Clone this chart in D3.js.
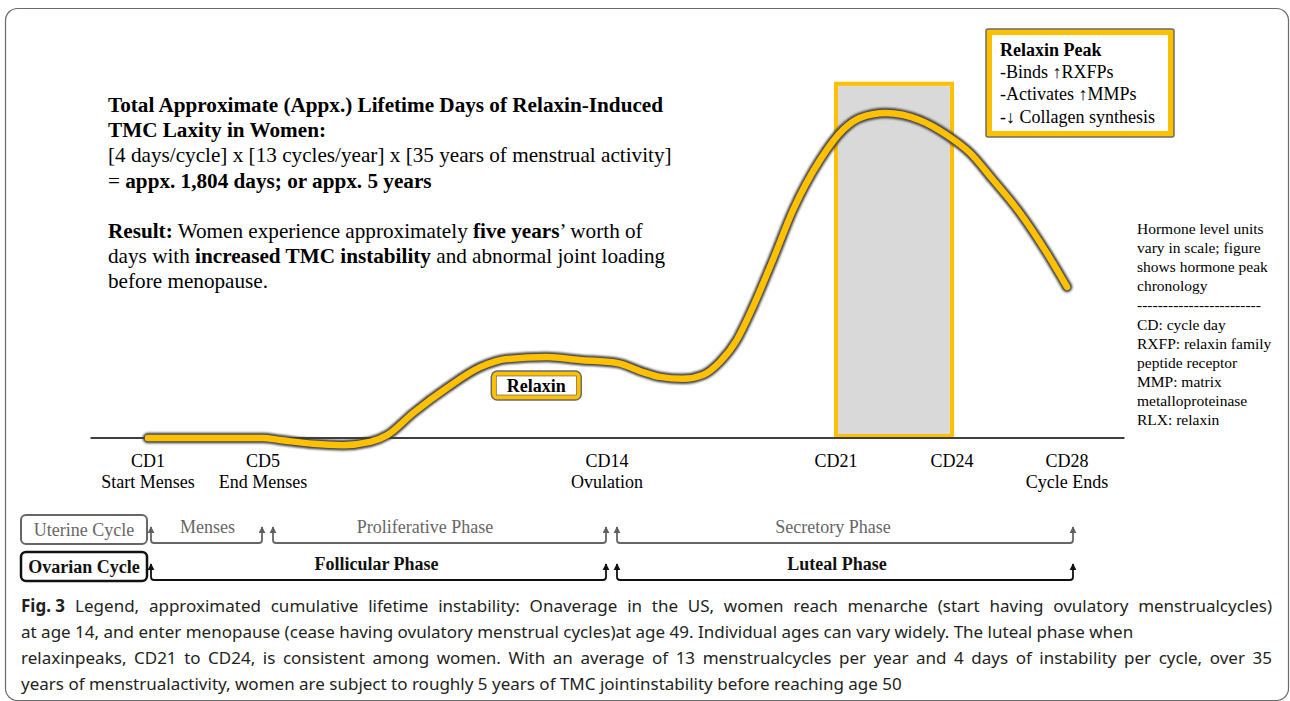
<!DOCTYPE html>
<html>
<head>
<meta charset="utf-8">
<script src="https://cdn.jsdelivr.net/npm/d3@7"></script>
<style>
  html, body { margin: 0; padding: 0; background: #fff; }
  svg { display: block; }
</style>
</head>
<body>
<svg id="fig" width="1290" height="701"></svg>
<script>
// Cycle-day ticks along the baseline
var TICK_DAYS = [1, 5, 14, 21, 24, 28];
var TICK_LABELS = ['CD1', 'CD5', 'CD14', 'CD21', 'CD24', 'CD28'];
var TICK_NOTES = ['Start Menses', 'End Menses', 'Ovulation', '', '', 'Cycle Ends'];

// Relaxin level (arbitrary units, peak = 100)
var CURVE_DAY = [1, 5, 5.44, 6.31, 7.09, 7.8, 8.25, 8.93, 9.81, 10.68, 11.38, 12.43, 13.29, 14.31, 15.1, 15.62, 16.32, 16.93, 17.45, 17.97, 18.46, 19.07, 19.69, 20.51, 21.18, 21.62, 22.29, 23.17, 23.87, 24.63, 25.43, 26.37, 27.3, 28];
var CURVE_LEVEL = [0, 0, -0.6, -1.8, -2.2, -1.2, 0.9, 7.7, 15.4, 21.8, 24.3, 24.9, 24.0, 23.1, 20.3, 18.8, 18.2, 19.4, 23.4, 30.2, 40.3, 54.8, 70.2, 85.5, 94.8, 98.5, 100, 97.8, 93.2, 87.7, 79.4, 69.2, 56.9, 46.5];

// Relaxin peak window (CD21 to CD24)
var PEAK_WINDOW = [21, 24];
var PEAK_BAND_TOP = 109;

// Uterine / ovarian phase rows
var UTERINE_NAMES = ['Menses', 'Proliferative Phase', 'Secretory Phase'];
var UTERINE_FROM = [1, 5, 14];
var UTERINE_TO = [5, 14, 28];
var OVARIAN_NAMES = ['Follicular Phase', 'Luteal Phase'];
var OVARIAN_FROM = [1, 14];
var OVARIAN_TO = [14, 28];

// Text blocks: each line is a list of [text, bold]
var SUMMARY_LINES = [
  [['Total Approximate (Appx.) Lifetime Days of Relaxin-Induced', true]],
  [['TMC Laxity in Women:', true]],
  [['[4 days/cycle] x [13 cycles/year] x [35 years of menstrual activity]', false]],
  [['= ', false], ['appx. 1,804 days; or appx. 5 years', true]],
  null,
  [['Result:', true], [' Women experience approximately ', false], ['five years', true], ['\u2019 worth of', false]],
  [['days with ', false], ['increased TMC instability', true], [' and abnormal joint loading', false]],
  [['before menopause.', false]]
];
var PEAK_NOTES = ['-Binds \u2191RXFPs', '-Activates \u2191MMPs', '-\u2193 Collagen synthesis'];
var SIDE_NOTES = [
  'Hormone level units', 'vary in scale; figure', 'shows hormone peak', 'chronology',
  '------------------------',
  'CD: cycle day', 'RXFP: relaxin family', 'peptide receptor', 'MMP: matrix',
  'metalloproteinase', 'RLX: relaxin'
];
var CAPTION_LINES = [
  'Legend, approximated cumulative lifetime instability: Onaverage in the US, women reach menarche (start having ovulatory menstrualcycles)',
  'at age 14, and enter menopause (cease having ovulatory menstrual cycles)at age 49. Individual ages can vary widely. The luteal phase when',
  'relaxinpeaks, CD21 to CD24, is consistent among women. With an average of 13 menstrualcycles per year and 4 days of instability per cycle, over 35',
  'years of menstrualactivity, women are subject to roughly 5 years of TMC jointinstability before reaching age 50'
];
// caption lines that are justified to the full width
var CAPTION_JUSTIFIED = [true, false, true, false];

var SERIF = '"Liberation Serif", "Times New Roman", serif';
var SANS = '"Noto Sans", "Open Sans", sans-serif';
var GOLD = '#FFC000';

(function () {
  'use strict';

  var svg = d3.select('#fig');

  // The figure spaces its day labels unevenly, so the day scale is piecewise
  var x = d3.scaleLinear().domain(TICK_DAYS).range([148, 263, 607, 836, 952, 1067]);
  var y = d3.scaleLinear().domain([0, 100]).range([438, 113]);

  var defs = svg.append('defs');
  defs.append('filter').attr('id', 'soft')
    .attr('x', '-10%').attr('y', '-10%').attr('width', '120%').attr('height', '120%')
    .append('feGaussianBlur').attr('stdDeviation', 1.3);

  function addArrow(id, color) {
    defs.append('marker')
      .attr('id', id)
      .attr('viewBox', '0 0 10 10')
      .attr('refX', 9).attr('refY', 5)
      .attr('markerUnits', 'userSpaceOnUse')
      .attr('markerWidth', 7).attr('markerHeight', 8)
      .attr('orient', 'auto-start-reverse')
      .append('path')
      .attr('d', 'M0,0 L10,5 L0,10 Z')
      .attr('fill', color);
  }
  addArrow('arrow-grey', '#5f5f5f');
  addArrow('arrow-black', '#111');

  // Outer frame
  svg.append('rect')
    .attr('x', 5.5).attr('y', 8.5)
    .attr('width', 1283).attr('height', 692)
    .attr('rx', 12)
    .attr('fill', 'none')
    .attr('stroke', '#6a6a6a')
    .attr('stroke-width', 1.2);

  // Summary text, top left
  var summary = svg.append('g')
    .attr('font-family', SERIF)
    .attr('font-size', 21.2)
    .attr('fill', '#000');
  SUMMARY_LINES.forEach(function (line, i) {
    if (!line) return;
    var t = summary.append('text').attr('x', 108).attr('y', 112 + i * 25.2);
    line.forEach(function (seg) {
      t.append('tspan')
        .attr('font-weight', seg[1] ? 'bold' : 'normal')
        .text(seg[0]);
    });
  });

  // Peak window band
  svg.append('rect')
    .attr('x', x(PEAK_WINDOW[0]))
    .attr('y', y(PEAK_BAND_TOP))
    .attr('width', x(PEAK_WINDOW[1]) - x(PEAK_WINDOW[0]))
    .attr('height', y(0) - y(PEAK_BAND_TOP) - 2)
    .attr('fill', '#d9d9d9')
    .attr('stroke', GOLD)
    .attr('stroke-width', 4);

  // Baseline
  svg.append('line')
    .attr('x1', x(-1)).attr('x2', x(30))
    .attr('y1', y(0)).attr('y2', y(0))
    .attr('stroke', '#404040')
    .attr('stroke-width', 2);

  // Relaxin curve: blurred dark halo under a gold stroke
  var points = CURVE_DAY.map(function (d, i) { return [d, CURVE_LEVEL[i]]; });
  var line = d3.line()
    .x(function (d) { return x(d[0]); })
    .y(function (d) { return y(d[1]); })
    .curve(d3.curveMonotoneX);

  svg.append('path')
    .attr('d', line(points))
    .attr('fill', 'none')
    .attr('stroke', '#3c3c3c')
    .attr('stroke-width', 10.5)
    .attr('stroke-linecap', 'round')
    .attr('stroke-linejoin', 'round')
    .attr('filter', 'url(#soft)');
  svg.append('path')
    .attr('d', line(points))
    .attr('fill', 'none')
    .attr('stroke', GOLD)
    .attr('stroke-width', 6.5)
    .attr('stroke-linecap', 'round')
    .attr('stroke-linejoin', 'round');

  // "Relaxin" tag under the plateau
  var tagX = x(12.15), tagY = y(16);
  var tag = svg.append('g').attr('transform', 'translate(' + tagX + ',' + tagY + ')');
  tag.append('rect')
    .attr('x', -45).attr('y', -15).attr('width', 90).attr('height', 29)
    .attr('rx', 6)
    .attr('fill', GOLD)
    .attr('stroke', '#6b6b6b').attr('stroke-width', 1.5);
  tag.append('rect')
    .attr('x', -40).attr('y', -10).attr('width', 80).attr('height', 19)
    .attr('fill', '#fff')
    .attr('stroke', '#555').attr('stroke-width', 0.6);
  tag.append('text')
    .attr('x', 0).attr('y', 6)
    .attr('text-anchor', 'middle')
    .attr('font-family', SERIF)
    .attr('font-weight', 'bold')
    .attr('font-size', 18)
    .text('Relaxin');

  // Relaxin Peak call-out
  var peak = svg.append('g').attr('transform', 'translate(986,29)');
  peak.append('rect')
    .attr('width', 188).attr('height', 108)
    .attr('rx', 2)
    .attr('fill', GOLD)
    .attr('stroke', '#6b6b6b').attr('stroke-width', 1.5);
  peak.append('rect')
    .attr('x', 6).attr('y', 6).attr('width', 176).attr('height', 96)
    .attr('fill', '#fff');
  var peakText = peak.append('g')
    .attr('font-family', SERIF)
    .attr('font-size', 18);
  peakText.append('text')
    .attr('x', 14).attr('y', 27)
    .attr('font-weight', 'bold')
    .text('Relaxin Peak');
  peakText.selectAll('text.note')
    .data(PEAK_NOTES)
    .join('text')
    .attr('class', 'note')
    .attr('x', 14)
    .attr('y', function (d, i) { return 49 + i * 22.3; })
    .text(function (d) { return d; });

  // Side notes, right
  svg.append('g')
    .attr('font-family', SERIF)
    .attr('font-size', 15.5)
    .selectAll('text')
    .data(SIDE_NOTES)
    .join('text')
    .attr('x', 1137)
    .attr('y', function (d, i) { return 234 + i * 19.1; })
    .text(function (d) { return d; });

  // Day labels
  var ticks = svg.append('g')
    .attr('font-family', SERIF)
    .attr('font-size', 18)
    .attr('text-anchor', 'middle');
  ticks.selectAll('text.cd')
    .data(TICK_DAYS)
    .join('text')
    .attr('class', 'cd')
    .attr('x', function (d) { return x(d); })
    .attr('y', 467)
    .text(function (d, i) { return TICK_LABELS[i]; });
  ticks.selectAll('text.sub')
    .data(TICK_DAYS)
    .join('text')
    .attr('class', 'sub')
    .attr('x', function (d) { return x(d); })
    .attr('y', 488)
    .text(function (d, i) { return TICK_NOTES[i]; });

  // Phase rows with bracket arrows
  function bracketPath(from, to, lineY, tipY) {
    var x0 = x(from) + (from === 1 ? 3 : 10);
    var x1 = x(to) + (to === TICK_DAYS[TICK_DAYS.length - 1] ? 6 : -1);
    var r = 3;
    return 'M' + x0 + ',' + tipY +
      'L' + x0 + ',' + (lineY - r) +
      'Q' + x0 + ',' + lineY + ' ' + (x0 + r) + ',' + lineY +
      'L' + (x1 - r) + ',' + lineY +
      'Q' + x1 + ',' + lineY + ' ' + x1 + ',' + (lineY - r) +
      'L' + x1 + ',' + tipY;
  }

  function phaseRow(opts) {
    var g = svg.append('g');
    g.append('rect')
      .attr('x', 21).attr('y', opts.boxY)
      .attr('width', 126).attr('height', 29)
      .attr('rx', 5)
      .attr('fill', '#fff')
      .attr('stroke', opts.color)
      .attr('stroke-width', opts.boxStroke);
    g.append('text')
      .attr('x', 84).attr('y', opts.boxY + 21)
      .attr('text-anchor', 'middle')
      .attr('font-family', SERIF)
      .attr('font-size', 18)
      .attr('font-weight', opts.bold ? 'bold' : 'normal')
      .attr('fill', opts.color)
      .text(opts.title);

    g.selectAll('path')
      .data(opts.names)
      .join('path')
      .attr('d', function (d, i) { return bracketPath(opts.from[i], opts.to[i], opts.lineY, opts.lineY - 16); })
      .attr('fill', 'none')
      .attr('stroke', opts.color)
      .attr('stroke-width', 1.8)
      .attr('marker-start', 'url(#' + opts.marker + ')')
      .attr('marker-end', 'url(#' + opts.marker + ')');

    g.selectAll('text.phase')
      .data(opts.names)
      .join('text')
      .attr('class', 'phase')
      .attr('x', function (d, i) { return (x(opts.from[i]) + x(opts.to[i])) / 2 + opts.labelDx[i]; })
      .attr('y', opts.lineY - 10)
      .attr('text-anchor', 'middle')
      .attr('font-family', SERIF)
      .attr('font-size', 18)
      .attr('font-weight', opts.bold ? 'bold' : 'normal')
      .attr('fill', opts.color)
      .text(function (d) { return d; });
  }

  phaseRow({
    title: 'Uterine Cycle', boxY: 515, boxStroke: 2, bold: false,
    color: '#666', marker: 'arrow-grey', lineY: 543,
    names: UTERINE_NAMES, from: UTERINE_FROM, to: UTERINE_TO,
    labelDx: [2, -10, -4]
  });
  phaseRow({
    title: 'Ovarian Cycle', boxY: 552, boxStroke: 2.5, bold: true,
    color: '#111', marker: 'arrow-black', lineY: 580,
    names: OVARIAN_NAMES, from: OVARIAN_FROM, to: OVARIAN_TO,
    labelDx: [-1, 0]
  });

  // Caption (justified lines get extra word spacing on the body only)
  var cap = svg.append('g')
    .attr('font-family', SANS)
    .attr('font-size', 17)
    .attr('fill', '#231f20');
  CAPTION_LINES.forEach(function (txt, i) {
    var t = cap.append('text').attr('x', 21).attr('y', 612 + i * 26);
    var body;
    if (i === 0) {
      t.append('tspan').attr('font-weight', 'bold').text('Fig. 3');
      body = t.append('tspan').attr('dx', 10).text(txt);
    } else {
      body = t.append('tspan').text(txt);
    }
    if (CAPTION_JUSTIFIED[i]) {
      var natural = t.node().getComputedTextLength() + (i === 0 ? 10 : 0);
      var gaps = txt.split(' ').length - 1;
      body.attr('word-spacing', ((1272 - 21 - natural) / gaps).toFixed(2));
    }
  });
})();
</script>
</body>
</html>
